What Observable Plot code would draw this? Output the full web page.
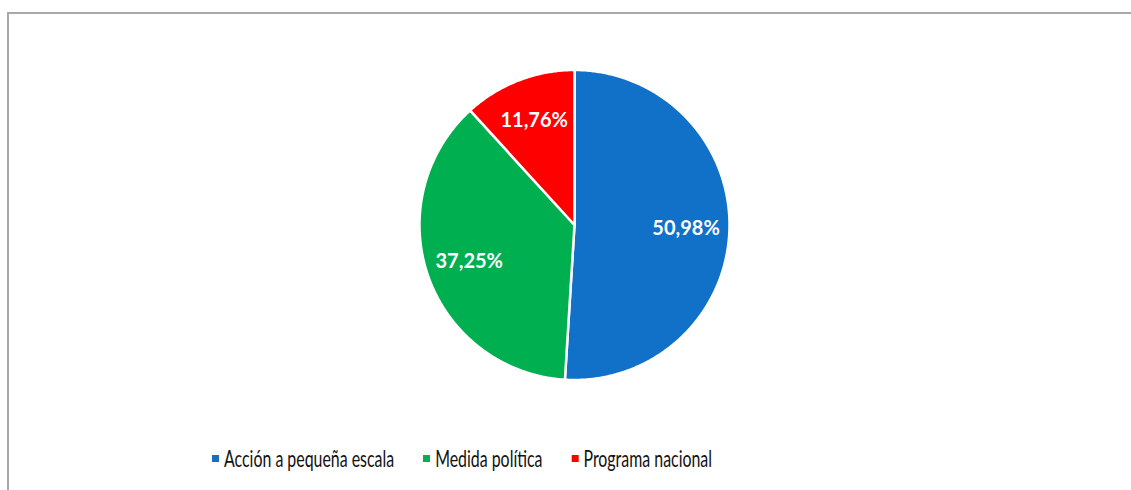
<!DOCTYPE html>
<html>
<head>
<meta charset="utf-8">
<script src="https://cdn.jsdelivr.net/npm/d3@7"></script>
<script src="https://cdn.jsdelivr.net/npm/@observablehq/plot@0.6"></script>
<style>
  html, body { margin: 0; padding: 0; background: #fff; overflow: hidden; width: 1131px; height: 490px; }
  #frame { position: absolute; left: 7px; top: 12px; width: 1200px; height: 600px; border: 2px solid #a9a9a9; box-sizing: border-box; }
  #chart { position: absolute; left: 0; top: 0; }
  #legend { position: absolute; left: 212px; top: 444px; width: 900px; transform-origin: 0 50%; }
  #legend .lg-swatches { font-family: Lato, sans-serif !important; font-size: 23px !important; color: #111; margin: 0; min-height: 0; }
</style>
</head>
<body>
<div id="frame"></div>
<div id="chart"></div>
<div id="legend"></div>
<script>
const categories = ["Acción a pequeña escala", "Medida política", "Programa nacional"];
const values = [50.98, 37.25, 11.76];
const valueLabels = ["50,98%", "37,25%", "11,76%"];
const colors = ["#1170C8", "#00B050", "#FF0000"];

// slice geometry (unit circle, clockwise from 12 o'clock)
const total = d3.sum(values);
const slices = [];
let acc = 0;
values.forEach((v, i) => {
  const a0 = acc / total * 2 * Math.PI;
  acc += v;
  const a1 = acc / total * 2 * Math.PI;
  slices.push({cat: categories[i], label: valueLabels[i], a0, a1});
});
const pts = [];
for (const s of slices) {
  pts.push({cat: s.cat, x: 0, y: 0});
  const n = Math.max(2, Math.ceil((s.a1 - s.a0) / (Math.PI / 360)));
  for (let k = 0; k <= n; k++) {
    const a = s.a0 + (s.a1 - s.a0) * k / n;
    pts.push({cat: s.cat, x: Math.sin(a), y: Math.cos(a)});
  }
  pts.push({cat: s.cat, x: 0, y: 0});
}
const labelR = 0.72;
const labelPts = slices.map(s => {
  const m = (s.a0 + s.a1) / 2;
  return {label: s.label, x: labelR * Math.sin(m), y: labelR * Math.cos(m)};
});

const W = 1131, H = 440;
const cx = 574, cy = 224.5, R = 155;
const plot = Plot.plot({
  width: W,
  height: H,
  marginLeft: cx - R,
  marginRight: W - (cx + R),
  marginTop: cy - R,
  marginBottom: H - (cy + R),
  x: {domain: [-1, 1], axis: null},
  y: {domain: [-1, 1], axis: null},
  color: {domain: categories, range: colors},
  style: {background: "transparent", overflow: "visible"},
  marks: [
    Plot.line(pts, {x: "x", y: "y", z: "cat", fill: "cat", stroke: "white", strokeWidth: 2.5, strokeLinejoin: "round"}),
    Plot.text(labelPts, {x: "x", y: "y", text: "label", fill: "white", fontSize: 20, fontWeight: "bold", fontFamily: "Lato, sans-serif"})
  ]
});
document.getElementById("chart").appendChild(plot);

const legend = Plot.legend({
  color: {domain: categories, range: colors},
  legend: "swatches",
  swatchSize: 7,
  className: "lg"
});
const legendBox = document.getElementById("legend");
legendBox.appendChild(legend);
// condense legend horizontally to the reference's narrow type
const items = Array.from(legendBox.querySelectorAll(".lg-swatch"));
function fit(scale) {
  items.forEach(it => {
    it.style.setProperty("margin-right", (29 / scale) + "px", "important");
    const sw = it.querySelector("svg");
    if (sw) {
      sw.style.setProperty("margin-right", (5 / scale) + "px", "important");
      sw.setAttribute("width", 7 / scale);
    }
  });
  const first = items[0].getBoundingClientRect();
  const last = items[items.length - 1].getBoundingClientRect();
  const w = last.right - first.left;
  return 500 / w;
}
if (items.length) {
  let s = 1;
  for (let k = 0; k < 5; k++) s = fit(s);
  fit(s);
  legendBox.style.transform = `scaleX(${s})`;
}
</script>
</body>
</html>
